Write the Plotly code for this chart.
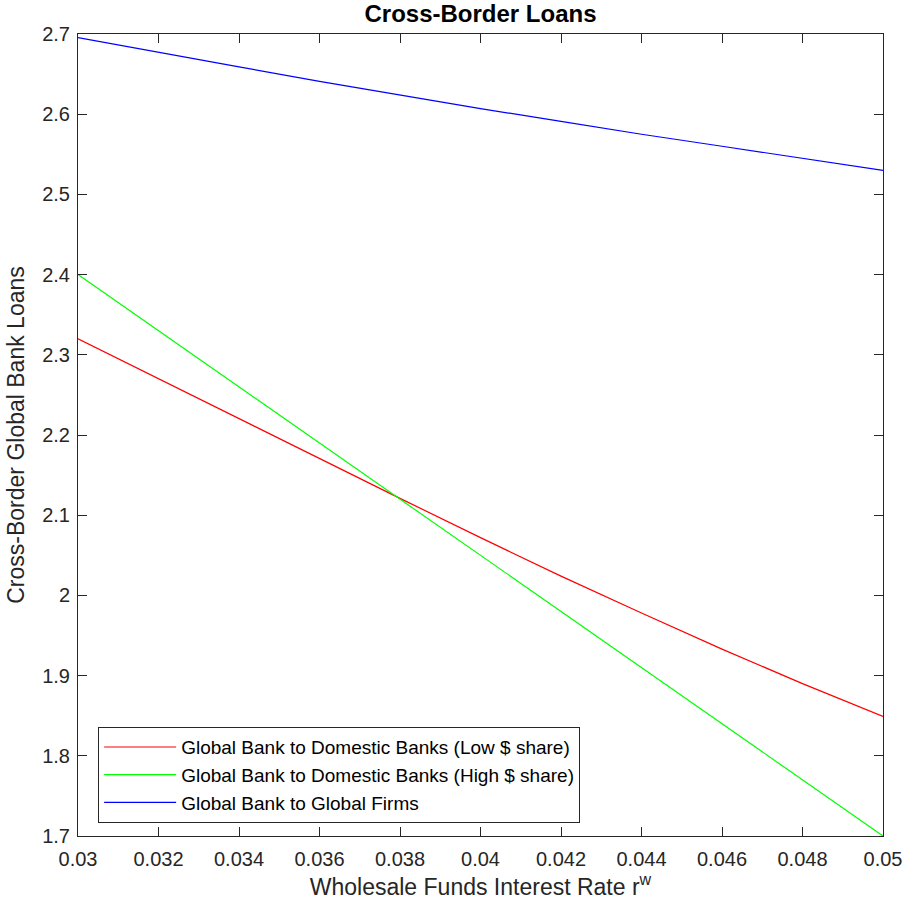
import plotly.graph_objects as go

# Data
r_w = [0.030, 0.032, 0.034, 0.036, 0.038, 0.040, 0.042, 0.044, 0.046, 0.048, 0.050]
low_share = [2.320, 2.270, 2.220, 2.170, 2.121, 2.072, 2.024, 1.978, 1.933, 1.890, 1.849]
high_share = [2.400, 2.330, 2.260, 2.190, 2.120, 2.050, 1.980, 1.910, 1.840, 1.770, 1.700]
global_firms = [2.6955, 2.677, 2.659, 2.641, 2.624, 2.607, 2.591, 2.575, 2.560, 2.545, 2.530]

series_names = [
    "Global Bank to Domestic Banks (Low $ share)",
    "Global Bank to Domestic Banks (High $ share)",
    "Global Bank to Global Firms",
]
series_colors = ["#FF0000", "#00FF00", "#0000FF"]

x_tickvals = [0.03, 0.032, 0.034, 0.036, 0.038, 0.04, 0.042, 0.044, 0.046, 0.048, 0.05]
x_ticktext = ["0.03", "0.032", "0.034", "0.036", "0.038", "0.04", "0.042", "0.044", "0.046", "0.048", "0.05"]
y_tickvals = [1.7, 1.8, 1.9, 2.0, 2.1, 2.2, 2.3, 2.4, 2.5, 2.6, 2.7]
y_ticktext = ["1.7", "1.8", "1.9", "2", "2.1", "2.2", "2.3", "2.4", "2.5", "2.6", "2.7"]

FONT = "Liberation Sans, Arial, Helvetica, sans-serif"
AXC = "#262626"

fig = go.Figure()
for name, ys, col in zip(series_names, [low_share, high_share, global_firms], series_colors):
    fig.add_trace(go.Scatter(x=r_w, y=ys, mode="lines", name=name,
                             line=dict(color=col, width=1.2)))

W, H = 903, 909
L, R, T, B = 78, 20, 34, 73

fig.update_layout(
    width=W, height=H,
    margin=dict(l=L, r=R, t=T, b=B, autoexpand=False),
    paper_bgcolor="white", plot_bgcolor="white",
    font=dict(family=FONT, size=19, color=AXC),
    title=dict(text="<b>Cross-Border Loans</b>", font=dict(size=24, color="black", family=FONT),
               xref="paper", x=0.5, xanchor="center",
               yref="container", y=1 - 13.5 / H, yanchor="middle"),
    showlegend=True,
    legend=dict(x=0.025, y=0.016, xanchor="left", yanchor="bottom",
                bgcolor="white", bordercolor=AXC, borderwidth=1,
                font=dict(size=19, color="black", family=FONT),
                traceorder="normal", itemwidth=72),
)

axis_common = dict(
    showline=True, linecolor=AXC, linewidth=1, mirror="ticks",
    ticks="inside", ticklen=9, tickwidth=1, tickcolor=AXC,
    showgrid=False, zeroline=False,
    tickfont=dict(size=20, color=AXC, family=FONT),
)

fig.update_xaxes(range=[0.03, 0.05], tickvals=x_tickvals, ticktext=x_ticktext,
                 ticklabelstandoff=5,
                 title=dict(text="Wholesale Funds Interest Rate r<sup>w</sup>",
                            font=dict(size=23, color=AXC, family=FONT), standoff=8),
                 automargin=False, **axis_common)
fig.update_yaxes(range=[1.7, 2.7], tickvals=y_tickvals, ticktext=y_ticktext,
                 ticklabelstandoff=3,
                 title=dict(text="Cross-Border Global Bank Loans",
                            font=dict(size=23, color=AXC, family=FONT), standoff=11),
                 automargin=False, **axis_common)

# Remove the default page margin so the figure fills the window exactly.
fig.write_html(
    "out.html",
    config={"displayModeBar": False},
    post_script="document.body.style.margin='0';document.body.style.overflow='hidden';",
)
